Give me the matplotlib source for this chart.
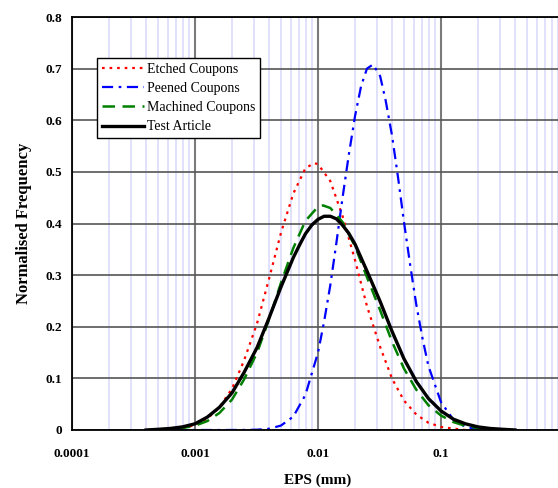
import matplotlib
matplotlib.use("Agg")
import matplotlib.pyplot as plt
from matplotlib.ticker import LogLocator, NullFormatter

# Etched Coupons
etched_eps = [0.00079, 0.001, 0.00126, 0.00158, 0.002, 0.0025, 0.0032, 0.004, 0.005,
              0.0063, 0.0079, 0.0093, 0.01, 0.0126, 0.0158, 0.02, 0.025, 0.032, 0.04,
              0.05, 0.063, 0.079, 0.1, 0.126, 0.158]
etched_freq = [0.003, 0.010, 0.022, 0.044, 0.080, 0.134, 0.207, 0.293, 0.382,
               0.458, 0.507, 0.517, 0.515, 0.482, 0.415, 0.329, 0.240, 0.161, 0.0995,
               0.057, 0.030, 0.014, 0.006, 0.0026, 0.0]

# Peened Coupons
peened_eps = [0.0007, 0.0016, 0.0025, 0.0032, 0.004, 0.005, 0.0063, 0.0079, 0.01,
              0.0112, 0.0126, 0.0141, 0.0158, 0.0178, 0.02, 0.0224, 0.025, 0.028,
              0.032, 0.0355, 0.04, 0.0447, 0.05, 0.0562, 0.063, 0.0708, 0.079, 0.1,
              0.126, 0.158, 0.2]
peened_freq = [0.0, 0.0, 0.0001, 0.0006, 0.0024, 0.0086, 0.026, 0.068, 0.150,
               0.2095, 0.281, 0.362, 0.4485, 0.533, 0.608, 0.666, 0.700, 0.708,
               0.6855, 0.638, 0.570, 0.490, 0.403, 0.319, 0.2425, 0.177, 0.124, 0.054,
               0.020, 0.006, 0.0017]

# Machined Coupons
machined_eps = [0.0005, 0.00063, 0.00079, 0.001, 0.00126, 0.00158, 0.002, 0.0025,
                0.0032, 0.004, 0.005, 0.0063, 0.0079, 0.01, 0.011, 0.0126, 0.0158,
                0.02, 0.025, 0.032, 0.04, 0.05, 0.063, 0.079, 0.1, 0.126, 0.158, 0.2,
                0.25, 0.32, 0.4]
machined_freq = [0.0006, 0.0016, 0.0038, 0.0084, 0.0173, 0.033, 0.059, 0.0975,
                 0.150, 0.2145, 0.285, 0.3525, 0.405, 0.4325, 0.435, 0.430, 0.403,
                 0.356, 0.296, 0.232, 0.171, 0.119, 0.078, 0.048, 0.028, 0.0154, 0.008,
                 0.0039, 0.0018, 0.0008, 0.0]

# Test Article
test_eps = [0.0004, 0.0005, 0.00063, 0.00079, 0.001, 0.00126, 0.00158, 0.002, 0.0025,
            0.0032, 0.004, 0.005, 0.0063, 0.0071, 0.0079, 0.0089, 0.01, 0.0112, 0.0126,
            0.0141, 0.0158, 0.0178, 0.02, 0.025, 0.032, 0.04, 0.05, 0.063, 0.079, 0.1,
            0.126, 0.158, 0.2, 0.25, 0.32, 0.4]
test_freq = [0.0, 0.0013, 0.003, 0.006, 0.012, 0.025, 0.044, 0.072, 0.111,
             0.160, 0.217, 0.277, 0.334, 0.359, 0.380, 0.397, 0.408, 0.414, 0.414,
             0.409, 0.397, 0.381, 0.360, 0.308, 0.249, 0.191, 0.138, 0.094, 0.061, 0.037,
             0.021, 0.012, 0.006, 0.003, 0.0013, 0.0]

x_ticks = [0.0001, 0.001, 0.01, 0.1]
x_tick_labels = ["0.0001", "0.001", "0.01", "0.1"]
y_ticks = [0, 0.1, 0.2, 0.3, 0.4, 0.5, 0.6, 0.7, 0.8]
y_tick_labels = ["0", "0.1", "0.2", "0.3", "0.4", "0.5", "0.6", "0.7", "0.8"]

plt.rcParams["font.family"] = ["Liberation Serif", "DejaVu Serif"]

fig = plt.figure(figsize=(5.58, 4.88), dpi=100)
# axes run out to x = 1, just past the right edge of the picture
ax = fig.add_axes([72 / 558, 58 / 488, 492 / 558, 413 / 488])

ax.set_xscale("log")
ax.set_xlim(0.0001, 1)
ax.set_ylim(0, 0.8)

# grid: lavender minor lines, grey decades, dark horizontal lines
ax.xaxis.set_minor_locator(LogLocator(base=10, subs=range(2, 10)))
ax.xaxis.set_minor_formatter(NullFormatter())
ax.grid(which="minor", axis="x", color="#d8d8fa", linewidth=1.1)
ax.grid(which="major", axis="x", color="#7a7a7a", linewidth=1.5)
ax.grid(which="major", axis="y", color="#555555", linewidth=1.2)
ax.set_axisbelow(True)

ax.plot(etched_eps, etched_freq, color="red", linewidth=1.6,
        linestyle=(0, (1.2, 2.2)), label="Etched Coupons")
ax.plot(peened_eps, peened_freq, color="blue", linewidth=1.6,
        linestyle=(0, (5, 2.5, 1.2, 2.5)), label="Peened Coupons")
ax.plot(machined_eps, machined_freq, color="green", linewidth=1.8,
        linestyle=(0, (5, 3)), label="Machined Coupons")
ax.plot(test_eps, test_freq, color="black", linewidth=2.4, label="Test Article")

ax.set_xticks(x_ticks)
ax.set_xticklabels(x_tick_labels, fontweight="bold", fontsize=9.5)
ax.set_yticks(y_ticks)
ax.set_yticklabels(y_tick_labels, fontweight="bold", fontsize=9.5)
ax.tick_params(axis="both", which="both", length=0)
ax.tick_params(axis="x", pad=13)
ax.tick_params(axis="y", pad=7)

for side in ["left", "bottom", "top"]:
    ax.spines[side].set_color("black")
    ax.spines[side].set_linewidth(1.3)

ax.set_xlabel("EPS (mm)", fontweight="bold", fontsize=11, labelpad=10)
ax.set_ylabel("Normalised Frequency", fontweight="bold", fontsize=12, labelpad=10)

leg = ax.legend(loc="upper left", bbox_to_anchor=(0.051, 0.901), borderaxespad=0,
                fontsize=10, handlelength=3.0, handletextpad=0.25, labelspacing=0.45,
                borderpad=0.35, fancybox=False, framealpha=1, edgecolor="black")
leg.get_frame().set_linewidth(1.0)

fig.savefig("out.png", dpi=100)
